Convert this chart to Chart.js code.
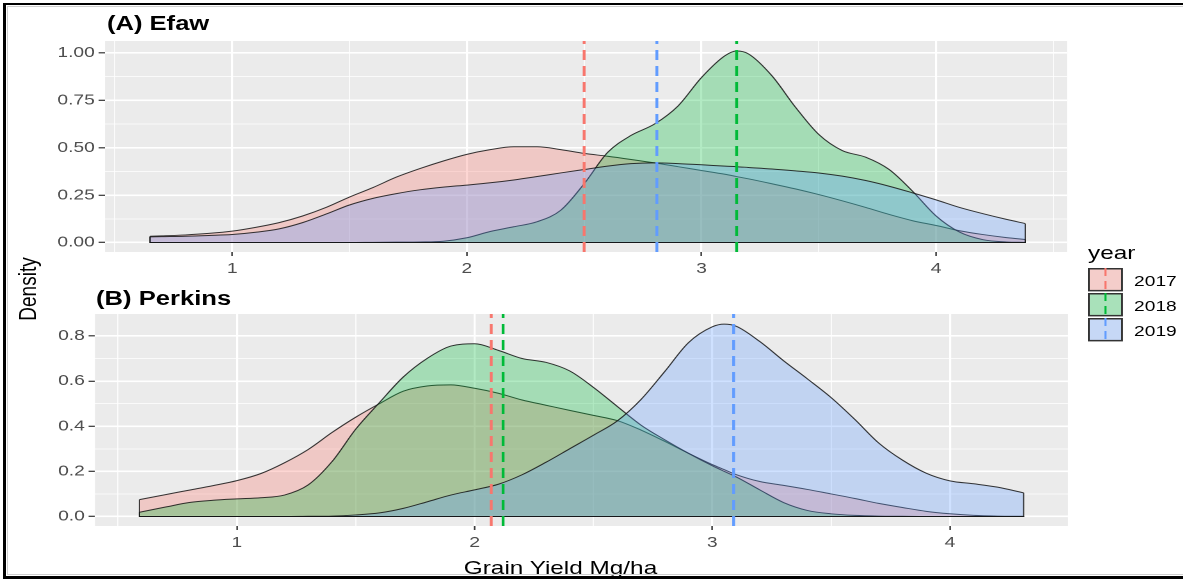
<!DOCTYPE html>
<html>
<head>
<meta charset="utf-8">
<title>Grain yield density by year</title>
<script src="https://cdn.jsdelivr.net/npm/chart.js@4.4.1/dist/chart.umd.min.js"></script>
<style>
  html, body { margin: 0; padding: 0; background: #fff; overflow: hidden; }
  body { width: 1183px; height: 581px; position: relative; }
  /* The figure is laid out on a 924px-wide stage and widened to 1183px. */
  #stage {
    position: absolute; left: 0; top: 0; width: 924px; height: 581px;
    transform: scaleX(1.28); transform-origin: 0 0;
    font-family: 'Liberation Sans', Arial, sans-serif; color: #000;
  }
  #stage canvas { position: absolute; left: 0; }
  #efaw { top: 0; }
  #perkins { top: 290px; }
  .lbl { position: absolute; white-space: nowrap; line-height: 1; }
  .title { font-size: 20px; font-weight: bold; }
  .axis { font-size: 19px; }
  #titleA { left: 83.5px; top: 13.1px; }
  #titleB { left: 75px; top: 288.1px; }
  #ylab { left: 22px; top: 289px; transform: translate(-50%, -50%) rotate(-90deg); }
  #xlab { left: 437.9px; top: 557.9px; transform: translateX(-50%); }
  #legend { position: absolute; left: 850px; top: 243px; width: 74px; height: 110px; }
  #legend svg { position: absolute; overflow: visible; }
  #frame {
    position: absolute; left: 3px; top: 3px; width: 1300px; height: 576px;
    box-sizing: border-box; border: 3px solid #000; border-top-width: 2px;
    border-right: none; z-index: 5; pointer-events: none;
  }
  #frame::after {
    content: ''; position: absolute; left: 1px; top: 1px; right: 0; bottom: 1px;
    border: 1px solid #cfcfcf; border-right: none;
  }
</style>
</head>
<body>
<div id="stage">
  <canvas id="efaw" width="924" height="290"></canvas>
  <canvas id="perkins" width="924" height="291"></canvas>
  <div class="lbl title" id="titleA">(A) Efaw</div>
  <div class="lbl title" id="titleB">(B) Perkins</div>
  <div class="lbl axis" id="ylab">Density</div>
  <div class="lbl axis" id="xlab">Grain Yield Mg/ha</div>
  <div id="legend"></div>
</div>
<div id="frame"></div>

<script>
// ---- data -------------------------------------------------------------
const years = ['2017', '2018', '2019'];
const yearColors = ['#F8766D', '#00BA38', '#619CFF'];

// Efaw: yield grid (Mg/ha) and kernel density of each year along it
const efawYield = [0.65, 0.7, 0.8, 0.9, 1.0, 1.1, 1.2, 1.3, 1.4, 1.5, 1.6, 1.7, 1.8, 1.9,
  2.0, 2.1, 2.2, 2.3, 2.4, 2.5, 2.6, 2.7, 2.8, 2.9, 3.0, 3.1, 3.15, 3.2, 3.3, 3.4, 3.5,
  3.6, 3.7, 3.8, 3.9, 4.0, 4.1, 4.2, 4.3, 4.38];
const efaw2017 = [0.033, 0.035, 0.040, 0.048, 0.060, 0.080, 0.105, 0.140, 0.185, 0.240,
  0.290, 0.345, 0.390, 0.430, 0.465, 0.490, 0.505, 0.505, 0.490, 0.470, 0.455, 0.438,
  0.420, 0.400, 0.380, 0.360, 0.348, 0.336, 0.310, 0.283, 0.253, 0.220, 0.185, 0.148,
  0.115, 0.090, 0.062, 0.042, 0.026, 0.016];
const efaw2018 = [0, 0, 0, 0, 0, 0, 0, 0, 0, 0, 0.001, 0.002, 0.003, 0.007, 0.025, 0.058,
  0.083, 0.110, 0.170, 0.310, 0.475, 0.565, 0.625, 0.720, 0.870, 0.985, 1.010, 0.995,
  0.880, 0.715, 0.570, 0.485, 0.450, 0.385, 0.270, 0.140, 0.055, 0.015, 0.003, 0.001];
const efaw2019 = [0.030, 0.031, 0.033, 0.037, 0.042, 0.054, 0.072, 0.105, 0.150, 0.198,
  0.233, 0.258, 0.278, 0.292, 0.303, 0.315, 0.330, 0.348, 0.367, 0.385, 0.403, 0.416,
  0.420, 0.416, 0.410, 0.403, 0.400, 0.396, 0.388, 0.378, 0.367, 0.350, 0.327, 0.297,
  0.262, 0.225, 0.185, 0.152, 0.122, 0.100];
const efawMeans = [2.50, 3.15, 2.81];

// Perkins
const perkinsYield = [0.59, 0.7, 0.8, 0.9, 1.0, 1.1, 1.2, 1.3, 1.4, 1.5, 1.6, 1.7, 1.8,
  1.9, 2.0, 2.1, 2.2, 2.3, 2.4, 2.5, 2.6, 2.7, 2.8, 2.9, 3.0, 3.05, 3.1, 3.2, 3.3, 3.4,
  3.5, 3.6, 3.7, 3.8, 3.9, 4.0, 4.1, 4.2, 4.31];
const perkins2017 = [0.075, 0.097, 0.117, 0.137, 0.159, 0.190, 0.238, 0.297, 0.372,
  0.440, 0.500, 0.555, 0.578, 0.583, 0.568, 0.546, 0.516, 0.493, 0.470, 0.448, 0.425,
  0.383, 0.333, 0.280, 0.230, 0.208, 0.186, 0.155, 0.138, 0.120, 0.100, 0.080, 0.058,
  0.040, 0.023, 0.012, 0.005, 0.002, 0.001];
const perkins2018 = [0.019, 0.042, 0.062, 0.072, 0.078, 0.083, 0.095, 0.140, 0.243,
  0.387, 0.505, 0.618, 0.700, 0.755, 0.765, 0.736, 0.700, 0.683, 0.645, 0.572, 0.488,
  0.405, 0.340, 0.280, 0.225, 0.200, 0.176, 0.118, 0.062, 0.027, 0.012, 0.005, 0.002,
  0.001, 0, 0, 0, 0, 0];
const perkins2019 = [0, 0, 0, 0, 0, 0, 0, 0.001, 0.002, 0.007, 0.016, 0.036, 0.065,
  0.095, 0.118, 0.143, 0.185, 0.240, 0.300, 0.360, 0.423, 0.518, 0.642, 0.770, 0.840,
  0.852, 0.843, 0.775, 0.690, 0.610, 0.527, 0.430, 0.326, 0.250, 0.192, 0.158, 0.145,
  0.130, 0.105];
const perkinsMeans = [2.07, 2.12, 3.09];

// axis breaks
const xTickValues = [1, 2, 3, 4];
const efawYTicks = [0, 0.25, 0.5, 0.75, 1];
const perkinsYTicks = [0, 0.2, 0.4, 0.6, 0.8];

// ---- drawing ----------------------------------------------------------
const FONT = "'Liberation Sans', Arial, sans-serif";
const OUTLINE = 'rgba(20,20,20,0.85)';
const FILL_ALPHA = 0.3;
Chart.defaults.font.family = FONT;

function rgba(hex, a) {
  const n = parseInt(hex.slice(1), 16);
  return `rgba(${(n >> 16) & 255},${(n >> 8) & 255},${n & 255},${a})`;
}

// major breaks plus the minor breaks half-way between them
function gridTicks(major, lo, hi) {
  const half = (major[1] - major[0]) / 2;
  const out = [];
  for (let k = -1; ; k++) {
    const v = +(major[0] + k * half).toFixed(6);
    if (v > hi + 1e-9) break;
    if (v < lo - 1e-9) continue;
    const isMajor = major.some(m => Math.abs(m - v) < 1e-9);
    out.push({ value: v, minor: !isMajor });
  }
  return out;
}

const panelBackground = {
  id: 'panelBackground',
  beforeDraw(chart) {
    const { ctx, chartArea: a } = chart;
    ctx.save();
    ctx.fillStyle = '#EBEBEB';
    ctx.fillRect(a.left, a.top, a.right - a.left, a.bottom - a.top);
    ctx.restore();
  }
};

// closes each density polygon: vertical ends and the zero baseline
const densityEdges = {
  id: 'densityEdges',
  afterDatasetDraw(chart, args) {
    const pts = args.meta.data;
    if (!pts.length) return;
    const y0 = chart.scales.y.getPixelForValue(0);
    const first = pts[0], last = pts[pts.length - 1];
    const ctx = chart.ctx;
    ctx.save();
    ctx.strokeStyle = OUTLINE;
    ctx.lineWidth = 1;
    ctx.beginPath();
    ctx.moveTo(first.x, first.y);
    ctx.lineTo(first.x, y0);
    ctx.lineTo(last.x, y0);
    ctx.lineTo(last.x, last.y);
    ctx.stroke();
    ctx.restore();
  }
};

// dashed vertical line at each year's mean yield
function meanLines(means) {
  return {
    id: 'meanLines',
    afterDatasetsDraw(chart) {
      const { ctx, chartArea: a, scales: { x } } = chart;
      ctx.save();
      ctx.lineWidth = 2.2;
      ctx.setLineDash([10, 6]);
      means.forEach((m, i) => {
        const px = x.getPixelForValue(m);
        ctx.strokeStyle = yearColors[i];
        ctx.beginPath();
        ctx.moveTo(px, a.bottom);
        ctx.lineTo(px, a.top);
        ctx.stroke();
      });
      ctx.restore();
    }
  };
}

function gridOptions(tickLength) {
  return {
    color: '#FFFFFF',
    lineWidth: c => (c.tick && c.tick.minor ? 0.8 : 1.6),
    tickColor: c => (c.tick && c.tick.minor ? 'rgba(0,0,0,0)' : '#333333'),
    tickWidth: 1.2,
    tickLength: tickLength,
    drawTicks: true
  };
}

function drawPanel(canvasId, cfg) {
  const canvas = document.getElementById(canvasId);
  const datasets = cfg.series.map((vals, i) => ({
    label: years[i],
    data: cfg.grid.map((x, k) => ({ x, y: vals[k] })),
    order: 3 - i,
    fill: 'origin',
    backgroundColor: rgba(yearColors[i], FILL_ALPHA),
    borderColor: OUTLINE,
    borderWidth: 1,
    pointRadius: 0,
    cubicInterpolationMode: 'monotone'
  }));
  const tickFont = { family: FONT, size: 15 };
  return new Chart(canvas, {
    type: 'line',
    data: { datasets },
    options: {
      responsive: false,
      animation: false,
      devicePixelRatio: 2,
      events: [],
      layout: { padding: { left: 0, top: cfg.area.top, right: cfg.width - cfg.area.right, bottom: 0 } },
      plugins: { legend: { display: false }, tooltip: { enabled: false } },
      scales: {
        x: {
          type: 'linear',
          position: 'bottom',
          min: cfg.xMin,
          max: cfg.xMax,
          afterBuildTicks: s => { s.ticks = gridTicks(xTickValues, s.min, s.max); },
          afterFit: s => { s.height = cfg.height - cfg.area.bottom; },
          border: { display: false },
          grid: gridOptions(4),
          ticks: {
            autoSkip: false, maxRotation: 0, minRotation: 0, padding: 4,
            color: '#4D4D4D', font: tickFont,
            callback: (v, i, t) => (t[i].minor ? '' : String(v))
          }
        },
        y: {
          type: 'linear',
          min: cfg.yMin,
          max: cfg.yMax,
          afterBuildTicks: s => { s.ticks = gridTicks(cfg.yTicks, s.min, s.max); },
          afterFit: s => { s.width = cfg.area.left; },
          border: { display: false },
          grid: gridOptions(5),
          ticks: {
            autoSkip: false, padding: 3,
            color: '#4D4D4D', font: tickFont,
            callback: (v, i, t) => (t[i].minor ? '' : Number(v).toFixed(cfg.decimals))
          }
        }
      }
    },
    plugins: [panelBackground, densityEdges, meanLines(cfg.means)]
  });
}

drawPanel('efaw', {
  width: 924, height: 290,
  area: { left: 82.03, right: 833.6, top: 41, bottom: 252 },
  grid: efawYield,
  series: [efaw2017, efaw2018, efaw2019],
  means: efawMeans,
  xMin: 0.458, xMax: 4.558,
  yMin: -0.050, yMax: 1.063,
  yTicks: efawYTicks, decimals: 2
});

drawPanel('perkins', {
  width: 924, height: 291,
  area: { left: 74.22, right: 834.4, top: 24, bottom: 236 },
  grid: perkinsYield,
  series: [perkins2017, perkins2018, perkins2019],
  means: perkinsMeans,
  xMin: 0.403, xMax: 4.497,
  yMin: -0.042, yMax: 0.897,
  yTicks: perkinsYTicks, decimals: 1
});

// ---- shared legend ----------------------------------------------------
(function buildLegend() {
  const kw = 27.3, kh = 23.4;
  let html = '<div class="lbl" style="left:0;top:0;font-size:19px">year</div>';
  years.forEach((yr, i) => {
    const c = yearColors[i];
    html += `<svg style="left:0;top:${25.3 + 25 * i}px" width="${kw}" height="${kh}" viewBox="0 0 ${kw} ${kh}">
      <rect x="0" y="0" width="${kw}" height="${kh}" fill="#F2F2F2"/>
      <rect x="0.75" y="0.75" width="${kw - 1.5}" height="${kh - 1.5}" fill="${rgba(c, FILL_ALPHA)}" stroke="#333" stroke-width="1.5"/>
      <line x1="${kw / 2}" y1="0" x2="${kw / 2}" y2="${kh}" stroke="${c}" stroke-width="1.6" stroke-dasharray="8 5"/>
    </svg>
    <div class="lbl" style="left:36px;top:${29.7 + 25 * i}px;font-size:15px">${yr}</div>`;
  });
  document.getElementById('legend').innerHTML = html;
})();
</script>
</body>
</html>
